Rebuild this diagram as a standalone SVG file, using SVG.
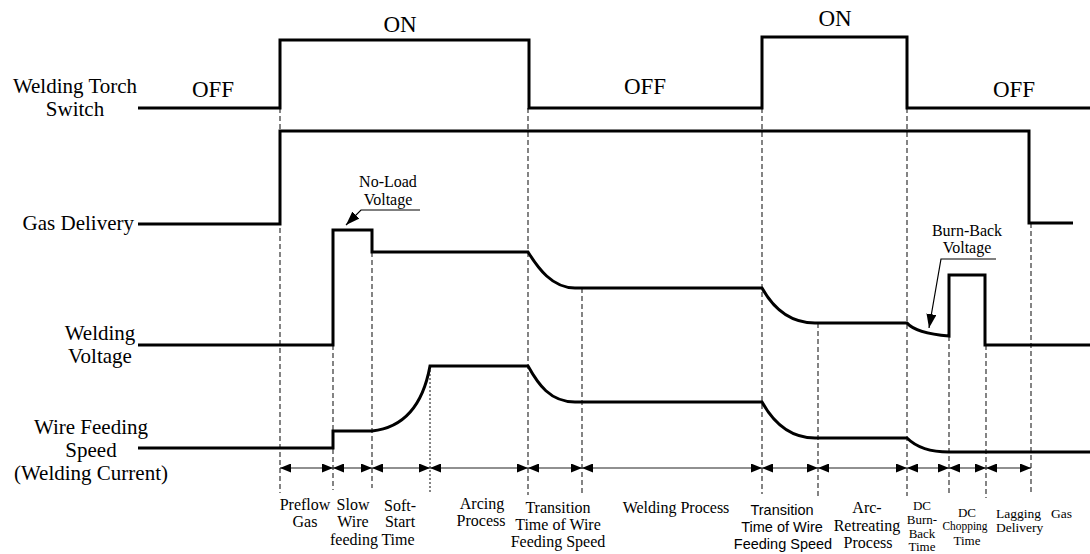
<svg xmlns="http://www.w3.org/2000/svg" width="1090" height="554" viewBox="0 0 1090 554">
<style>
text{font-family:"Liberation Serif","Times New Roman",serif;fill:#000}
.lbl{font-size:21px;text-anchor:middle}
.st{font-size:23px;text-anchor:middle}
.ann{font-size:16px;text-anchor:middle}
.bl{font-size:16px;text-anchor:middle}
.bs{font-size:13px;text-anchor:middle}
.sans{font-family:"Liberation Sans",Arial,sans-serif;font-size:14.5px;text-anchor:middle}
.sig{fill:none;stroke:#000;stroke-width:3;stroke-linejoin:miter}
.dash{stroke:#333;stroke-width:1.2;stroke-dasharray:5 3;fill:none}
.dot{stroke:#333;stroke-width:1.2;stroke-dasharray:2 2;fill:none}
.dim{stroke:#222;stroke-width:1.2;fill:none;marker-start:url(#ah);marker-end:url(#ah)}
.lead{stroke:#000;stroke-width:1.2;fill:none}
</style>
<defs>
<marker id="ah" markerUnits="userSpaceOnUse" markerWidth="11" markerHeight="9" refX="11" refY="4.5" orient="auto-start-reverse"><path d="M0,0 L11,4.5 L0,9 z" fill="#000"/></marker>
<marker id="ah2" markerUnits="userSpaceOnUse" markerWidth="14" markerHeight="10" refX="14" refY="5" orient="auto"><path d="M0,0 L14,5 L0,10 z" fill="#000"/></marker>
</defs>

<g id="connectors">
<line class="dash" x1="280" y1="108" x2="280" y2="493"/>
<line class="dash" x1="333" y1="345" x2="333" y2="490"/>
<line class="dash" x1="372" y1="252" x2="372" y2="488"/>
<line class="dot" x1="430" y1="366" x2="430" y2="493"/>
<line class="dash" x1="528" y1="108" x2="528" y2="495"/>
<line class="dash" x1="582" y1="288" x2="582" y2="496"/>
<line class="dash" x1="762" y1="108" x2="762" y2="494"/>
<line class="dash" x1="818" y1="323" x2="818" y2="497"/>
<line class="dash" x1="907" y1="108" x2="907" y2="496"/>
<line class="dash" x1="949" y1="336" x2="949" y2="493"/>
<line class="dash" x1="986" y1="345" x2="986" y2="498"/>
<line class="dash" x1="1031" y1="223" x2="1031" y2="494"/>
<line class="dim" x1="280" y1="468" x2="333" y2="468"/>
<line class="dim" x1="333" y1="468" x2="372" y2="468"/>
<line class="dim" x1="372" y1="468" x2="430" y2="468"/>
<line class="dim" x1="430" y1="468" x2="528" y2="468"/>
<line class="dim" x1="528" y1="468" x2="582" y2="468"/>
<line class="dim" x1="582" y1="468" x2="762" y2="468"/>
<line class="dim" x1="762" y1="468" x2="818" y2="468"/>
<line class="dim" x1="818" y1="468" x2="907" y2="468"/>
<line class="dim" x1="907" y1="468" x2="949" y2="468"/>
<line class="dim" x1="949" y1="468" x2="986" y2="468"/>
<line class="dim" x1="986" y1="468" x2="1031" y2="468"/>
<polyline class="lead" points="420,210 361,210 346,225" marker-end="url(#ah2)"/>
<polyline class="lead" points="996,259 941,259 929,328" marker-end="url(#ah2)"/>
</g>

<g id="torch-switch">
<text class="lbl" x="75" y="93">Welding Torch</text>
<text class="lbl" x="75" y="116">Switch</text>
<path class="sig" d="M138,108 H280 V40 H529 V108 H762 V37 H907 V108 H1090"/>
<text class="st" x="213" y="97">OFF</text>
<text class="st" x="400" y="32">ON</text>
<text class="st" x="645" y="94">OFF</text>
<text class="st" x="835" y="26">ON</text>
<text class="st" x="1014" y="97">OFF</text>
</g>

<g id="gas-delivery">
<text class="lbl" x="134" y="230" style="text-anchor:end">Gas Delivery</text>
<path class="sig" d="M138,224 H280 V131 H1029 V223 H1073"/>
</g>

<g id="welding-voltage">
<text class="lbl" x="100" y="340">Welding</text>
<text class="lbl" x="100" y="363">Voltage</text>
<path class="sig" d="M138,345 H333 V230 H372 V252 H528 C538,268 552,288 575,288 H762 C772,306 788,323 815,323 H907 C913,330 925,334 949,336 V275 H985 V345 H1090"/>
<text class="ann" x="388" y="187">No-Load</text>
<text class="ann" x="388" y="205">Voltage</text>
<text class="ann" x="967" y="236">Burn-Back</text>
<text class="ann" x="967" y="253">Voltage</text>
</g>

<g id="wire-feeding-speed">
<text class="lbl" x="91" y="434">Wire Feeding</text>
<text class="lbl" x="91" y="457">Speed</text>
<text class="lbl" x="91" y="480">(Welding Current)</text>
<path class="sig" d="M138,448 H333 V431 H372 C400,428 422,410 430,366 H528 C538,384 550,402 575,402 H762 C772,420 788,438 815,438 H907 C915,446 928,452 949,452 H1090"/>
</g>

<g id="phase-labels">
<text class="bl" x="305" y="510">Preflow</text>
<text class="bl" x="305" y="527">Gas</text>
<text class="bl" x="353" y="510">Slow</text>
<text class="bl" x="353" y="527">Wire</text>
<text class="bl" x="354" y="545">feeding</text>
<text class="bl" x="400" y="511">Soft-</text>
<text class="bl" x="400" y="527">Start</text>
<text class="bl" x="398" y="545">Time</text>
<text class="bl" x="482" y="509">Arcing</text>
<text class="bl" x="481" y="526">Process</text>
<text class="bl" x="558" y="513">Transition</text>
<text class="bl" x="558" y="530">Time of Wire</text>
<text class="bl" x="558" y="547">Feeding Speed</text>
<text class="bl" x="676" y="513">Welding Process</text>
<text class="sans" x="782" y="515">Transition</text>
<text class="sans" x="782" y="532">Time of Wire</text>
<text class="sans" x="783" y="549">Feeding Speed</text>
<text class="bl" x="867" y="513">Arc-</text>
<text class="bl" x="867" y="531">Retreating</text>
<text class="bl" x="868" y="548">Process</text>
<text class="bs" x="922" y="510">DC</text>
<text class="bs" x="922" y="524">Burn-</text>
<text class="bs" x="922" y="538">Back</text>
<text class="bs" x="922" y="551">Time</text>
<text class="bs" x="967" y="517">DC</text>
<text class="bs" x="965" y="530" textLength="45" lengthAdjust="spacingAndGlyphs">Chopping</text>
<text class="bs" x="967" y="545">Time</text>
<text class="bs" style="text-anchor:start;font-size:13.5px"><tspan x="996" y="518">Lagging</tspan><tspan x="1051" y="518">Gas</tspan><tspan x="996" y="532">Delivery</tspan></text>
</g>
</svg>
